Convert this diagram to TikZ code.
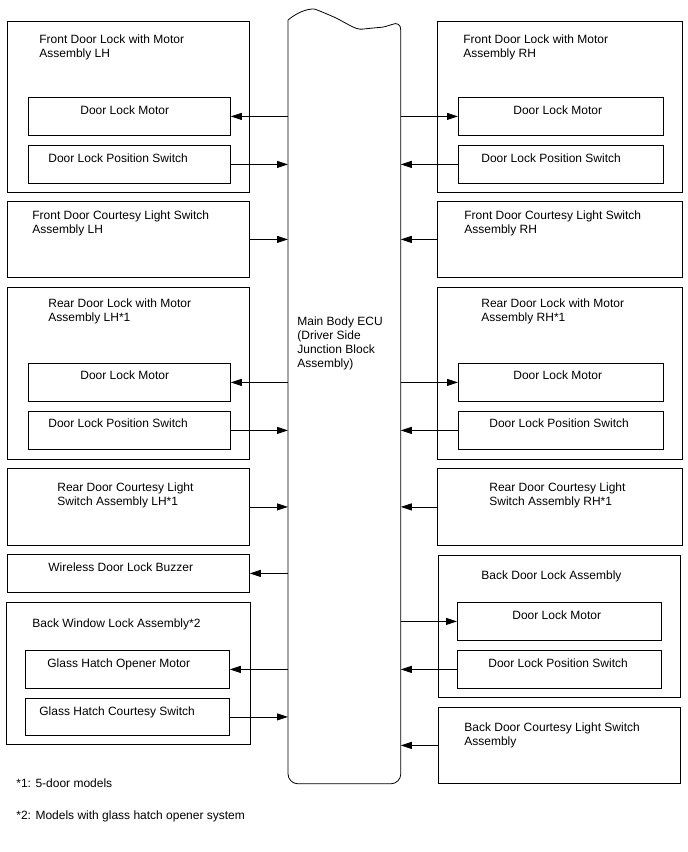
\documentclass[tikz,border=0pt]{standalone}
\usepackage{fontspec}
\setmainfont{Liberation Sans}
\usepackage{tikz}
\usetikzlibrary{arrows.meta, positioning, calc}

\begin{document}
\begin{tikzpicture}[x=1pt, y=-1pt, line width=0.8pt,
  box/.style={rectangle, draw, anchor=north west, inner sep=0pt},
  lbl/.style={anchor=north west, inner sep=0pt, align=left, font=\fontsize{12}{14}\selectfont},
  arr/.style={-{Triangle[length=11pt, width=7pt]}}]

\useasboundingbox (0,0) rectangle (688,852);

% Main Body ECU
\node[anchor=north west, inner sep=0pt, minimum width=112, minimum height=763] (ecu) at (288,20) {};
\draw[rounded corners=10pt] (ecu.north west) .. controls (300,10) and (312,8) .. (325,13)
  .. controls (345,22) and (355,30) .. (372,28) .. controls (385,27) and (393,24) .. (ecu.north east)
  -- (ecu.south east) -- (ecu.south west) -- (ecu.north west);
\node[lbl] at (297,316) {Main Body ECU\\(Driver Side\\Junction Block\\Assembly)};

% Left side
\node[box, minimum width=242, minimum height=171] (fdLH) at (7,21) {};
\node[lbl] at (39,34.5) {Front Door Lock with Motor\\Assembly LH};
\node[box, minimum width=202, minimum height=38] (fdMotLH) at (28,97) {};
\node[lbl] at (80,105) {Door Lock Motor};
\node[box, minimum width=202, minimum height=38] (fdSwLH) at (28,145) {};
\node[lbl] at (48,153) {Door Lock Position Switch};

\node[box, minimum width=242, minimum height=76] (fdcLH) at (7,201) {};
\node[lbl] at (32,210) {Front Door Courtesy Light Switch\\Assembly LH};

\node[box, minimum width=242, minimum height=172] (rdLH) at (7,287) {};
\node[lbl] at (48,298) {Rear Door Lock with Motor\\Assembly LH*1};
\node[box, minimum width=202, minimum height=38] (rdMotLH) at (28,363) {};
\node[lbl] at (80,370) {Door Lock Motor};
\node[box, minimum width=202, minimum height=38] (rdSwLH) at (28,411) {};
\node[lbl] at (48,418) {Door Lock Position Switch};

\node[box, minimum width=242, minimum height=77] (rdcLH) at (7,468) {};
\node[lbl] at (57,482) {Rear Door Courtesy Light\\Switch Assembly LH*1};

\node[box, minimum width=242, minimum height=38] (buzz) at (7,554) {};
\node[lbl] at (48,562) {Wireless Door Lock Buzzer};

\node[box, minimum width=244, minimum height=142] (bwLock) at (6,602) {};
\node[lbl] at (32,618) {Back Window Lock Assembly*2};
\node[box, minimum width=204, minimum height=38] (ghMot) at (25,650) {};
\node[lbl] at (47,658) {Glass Hatch Opener Motor};
\node[box, minimum width=204, minimum height=37] (ghSw) at (25,698) {};
\node[lbl] at (39,706) {Glass Hatch Courtesy Switch};

\draw[arr] (ecu.west |- fdMotLH.east) -- (fdMotLH.east);
\draw[arr] (fdSwLH.east) -- (fdSwLH.east -| ecu.west);
\draw[arr] (fdcLH.east) -- (fdcLH.east -| ecu.west);
\draw[arr] (ecu.west |- rdMotLH.east) -- (rdMotLH.east);
\draw[arr] (rdSwLH.east) -- (rdSwLH.east -| ecu.west);
\draw[arr] (rdcLH.east) -- (rdcLH.east -| ecu.west);
\draw[arr] (ecu.west |- buzz.east) -- (buzz.east);
\draw[arr] (ecu.west |- ghMot.east) -- (ghMot.east);
\draw[arr] (ghSw.east) -- (ghSw.east -| ecu.west);

% Right side
\node[box, minimum width=245, minimum height=171] (fdRH) at (437,21) {};
\node[lbl] at (463,34.5) {Front Door Lock with Motor\\Assembly RH};
\node[box, minimum width=205, minimum height=38] (fdMotRH) at (458,97) {};
\node[lbl] at (513,105) {Door Lock Motor};
\node[box, minimum width=205, minimum height=38] (fdSwRH) at (458,145) {};
\node[lbl] at (481,153) {Door Lock Position Switch};

\node[box, minimum width=245, minimum height=76] (fdcRH) at (437,201) {};
\node[lbl] at (464,210) {Front Door Courtesy Light Switch\\Assembly RH};

\node[box, minimum width=245, minimum height=172] (rdRH) at (437,287) {};
\node[lbl] at (481,298) {Rear Door Lock with Motor\\Assembly RH*1};
\node[box, minimum width=205, minimum height=38] (rdMotRH) at (458,363) {};
\node[lbl] at (513,370) {Door Lock Motor};
\node[box, minimum width=205, minimum height=38] (rdSwRH) at (458,411) {};
\node[lbl] at (489,418) {Door Lock Position Switch};

\node[box, minimum width=245, minimum height=77] (rdcRH) at (437,468) {};
\node[lbl] at (489,482) {Rear Door Courtesy Light\\Switch Assembly RH*1};

\node[box, minimum width=242, minimum height=142] (bdLock) at (438,555) {};
\node[lbl] at (481,570) {Back Door Lock Assembly};
\node[box, minimum width=204, minimum height=38] (bdMot) at (457,602) {};
\node[lbl] at (512,610) {Door Lock Motor};
\node[box, minimum width=204, minimum height=38] (bdSw) at (457,650) {};
\node[lbl] at (488,658) {Door Lock Position Switch};

\node[box, minimum width=242, minimum height=76] (bdcRH) at (438,707) {};
\node[lbl] at (464,722) {Back Door Courtesy Light Switch\\Assembly};

\draw[arr] (ecu.east |- fdMotRH.west) -- (fdMotRH.west);
\draw[arr] (fdSwRH.west) -- (fdSwRH.west -| ecu.east);
\draw[arr] (fdcRH.west) -- (fdcRH.west -| ecu.east);
\draw[arr] (ecu.east |- rdMotRH.west) -- (rdMotRH.west);
\draw[arr] (rdSwRH.west) -- (rdSwRH.west -| ecu.east);
\draw[arr] (rdcRH.west) -- (rdcRH.west -| ecu.east);
\draw[arr] (ecu.east |- bdMot.west) -- (bdMot.west);
\draw[arr] (bdSw.west) -- (bdSw.west -| ecu.east);
\draw[arr] (bdcRH.west) -- (bdcRH.west -| ecu.east);

% Notes
\node[lbl] (note1) at (16,778) {*1: 5-door models};
\node[lbl] (note2) at (16,810) {*2: Models with glass hatch opener system};

\end{tikzpicture}
\end{document}
